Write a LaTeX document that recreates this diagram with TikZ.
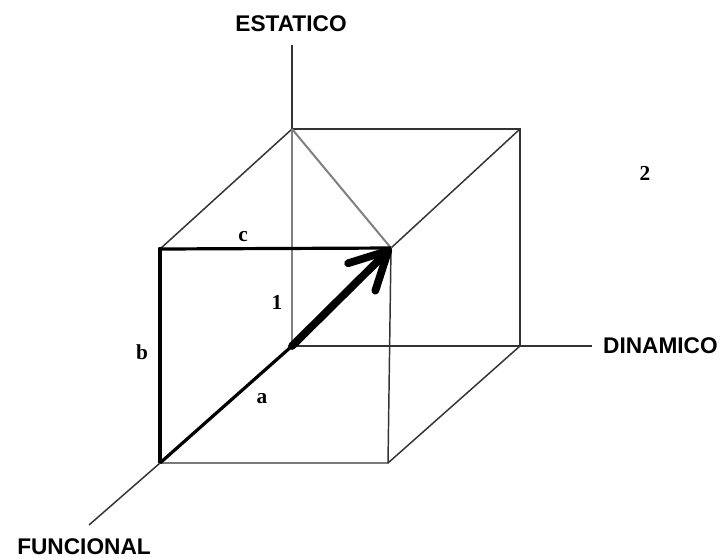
\documentclass[tikz,border=0pt]{standalone}
\usepackage{fontspec}
\setmainfont{Liberation Serif}
\setsansfont{Liberation Sans}
\usetikzlibrary{arrows.meta}

\tikzset{
	edge/.style={draw=black!80, line width=1.1pt},
	hidden/.style={draw=black!50, line width=1.5pt},
	vec/.style={draw=black, line width=2.4pt},
	axislabel/.style={font=\sffamily\bfseries\fontsize{17}{20}\selectfont},
	letter/.style={font=\bfseries\fontsize{16}{18}\selectfont}
}

\begin{document}
\begin{tikzpicture}[x=0.75pt, y=-0.75pt]
		\useasboundingbox (0, 0) rectangle (720, 558);
		% Cube corners: back face and front face.
		\coordinate (O) at (292, 346);
		\coordinate (btl) at (292, 129);
		\coordinate (btr) at (520, 129);
		\coordinate (bbr) at (520, 346);
		\coordinate (ftl) at (160, 249);
		\coordinate (ftr) at (391, 248);
		\coordinate (fbr) at (388, 463);
		\coordinate (fbl) at (160, 463);
		% Axis ends.
		\coordinate (estEnd) at (292, 45);
		\coordinate (dinEnd) at (592, 346);
		\coordinate (funEnd) at (89, 525);
		\node[axislabel] (est) at (291, 24) {ESTATICO};
		\node[axislabel, anchor=east, inner sep=0pt] (din) at (718, 346) {DINAMICO};
		\node[axislabel] (fun) at (84, 547) {FUNCIONAL};
		% Axes and cube edges.
		\draw[edge] (estEnd) -- (btl) -- (btr) -- (bbr) -- (O);
		\draw[edge] (bbr) -- (dinEnd);
		\draw[edge] (btl) -- (ftl);
		\draw[edge] (btr) -- (ftr) -- (fbr) -- (fbl) -- (funEnd);
		\draw[edge] (bbr) -- (fbr);
		\draw[hidden] (btl) -- (O);
		\draw[hidden] (btl) -- (ftr);
		% Components and resultant.
		\draw[vec] (ftl) -- (ftr);
		\draw[vec] (ftl) -- (fbl);
		\draw[vec] (fbl) -- (O);
		\draw[line width=5.8pt, line cap=round,
			-{Straight Barb[length=28pt, width=29pt, round]}] (O) -- (ftr);
		\fill (ftl) circle (2.2);
		% Labels.
		\node[letter] (c) at (243, 237) {c};
		\node[letter] (b) at (142, 352) {b};
		\node[letter] (a) at (262, 399) {a};
		\node[letter] (one) at (277, 302) {1};
		\node[letter] (two) at (645, 173) {2};
	\end{tikzpicture}
\end{document}
